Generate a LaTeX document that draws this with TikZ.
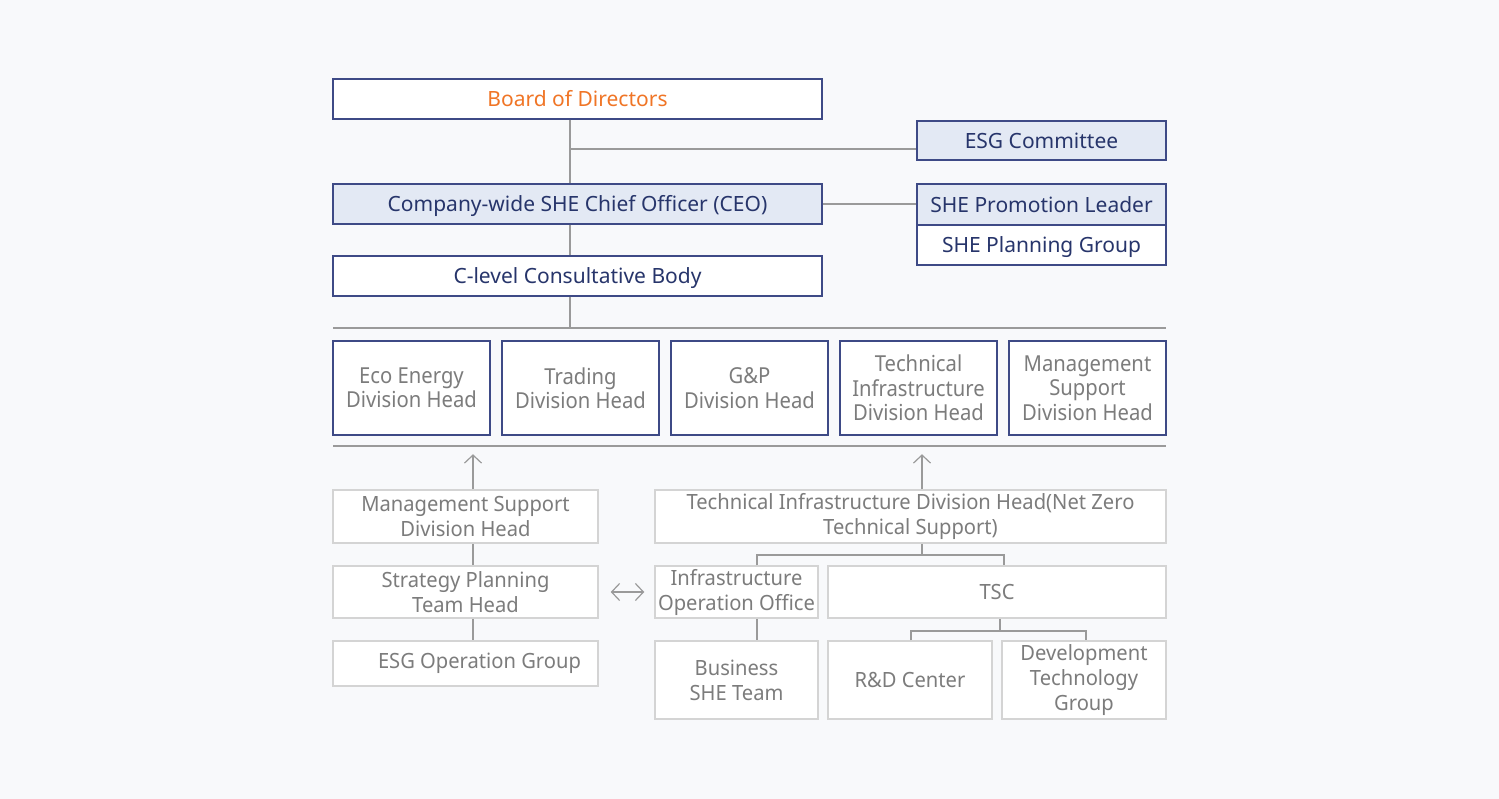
\documentclass[tikz,border=0pt]{standalone}
\usepackage{fontspec}
\setmainfont{Noto Sans}
\newfontfamily\condfont{Noto Sans}[FakeStretch=0.92]
\newfontfamily\lowfont{Noto Sans}[FakeStretch=0.96]
\usetikzlibrary{arrows.meta,calc}
\definecolor{bgc}{HTML}{F8F9FB}
\definecolor{navyb}{HTML}{3E4A86}
\definecolor{navyt}{HTML}{27356B}
\definecolor{lblue}{HTML}{E3E9F4}
\definecolor{orng}{HTML}{F07526}
\definecolor{lineg}{HTML}{9A9A9A}
\definecolor{textg}{HTML}{7C7C7C}
\definecolor{lbord}{HTML}{D4D4D4}
\tikzset{
  topbox/.style={draw=navyb, line width=1.5pt, fill=white, text=navyt, inner sep=0pt,
     text height=15.6pt, text depth=0pt, font=\fontsize{21}{24}\selectfont},
  divbox/.style={draw=navyb, line width=1.5pt, fill=white, text=textg, inner sep=0pt,
     minimum width=157, minimum height=94, align=center,
     font=\condfont\fontsize{22}{24.3}\selectfont},
  lowbox/.style={draw=lbord, line width=1.5pt, fill=white, text=textg, inner sep=0pt,
     align=center, font=\lowfont\fontsize{21}{25}\selectfont},
  conn/.style={draw=lineg, line width=1.4pt},
  arr/.style={conn, -{Straight Barb[length=8pt,width=17pt,line width=1.2pt]}},
  darr/.style={conn, {Straight Barb[length=8pt,width=17pt,line width=1.2pt]}-{Straight Barb[length=8pt,width=17pt,line width=1.2pt]}},
}
\begin{document}
\begin{tikzpicture}[x=1pt,y=-1pt]
\fill[bgc] (0,0) rectangle (1499,799);
\useasboundingbox (0,0) rectangle (1499,799);
% top block
\node[topbox, text=orng, minimum width=489, minimum height=40] (board) at (577.5,99) {Board of Directors};
\node[topbox, fill=lblue, minimum width=249, minimum height=39] (esg) at (1041.5,140.5) {ESG Committee};
\node[topbox, fill=lblue, minimum width=489, minimum height=40] (ceo) at (577.5,204) {Company-wide SHE Chief Officer (CEO)};
\node[topbox, fill=lblue, minimum width=249, minimum height=41] (prom) at (1041.5,204.5) {SHE Promotion Leader};
\node[topbox, minimum width=249, minimum height=40] (plan) at (1041.5,245) {SHE Planning Group};
\node[topbox, minimum width=489, minimum height=40] (clevel) at (577.5,276) {C-level Consultative Body};
\coordinate (spine) at (570,0);
\coordinate (esgj) at (570,149);
\coordinate (r1l) at (333,328);
\coordinate (r1r) at (1166,328);
\coordinate (r2l) at (333,446);
\coordinate (r2r) at (1166,446);
\draw[conn] (board.south -| spine) -- (ceo.north -| spine);
\draw[conn] (esgj) -- (esg.west |- esgj);
\draw[conn] (ceo.east) -- (prom.west |- ceo.east);
\draw[conn] (ceo.south -| spine) -- (clevel.north -| spine);
\draw[conn] (clevel.south -| spine) -- (r1l -| spine);
\draw[conn] (r1l) -- (r1r);
\draw[conn] (r2l) -- (r2r);
% division heads
\node[divbox] (d1) at (411.5,388) {Eco Energy\\Division Head};
\node[divbox] (d2) at (580.5,388) {Trading\\Division Head};
\node[divbox] (d3) at (749.5,388) {G\&P\\Division Head};
\node[divbox] (d4) at (918.5,388) {Technical\\Infrastructure\\Division Head};
\node[divbox] (d5) at (1087.5,388) {Management\\Support\\Division Head};
% lower left
\node[lowbox, minimum width=265, minimum height=53] (msdh) at (465.5,516.5) {Management Support\\Division Head};
\node[lowbox, minimum width=265, minimum height=52] (spth) at (465.5,592) {Strategy Planning\\Team Head};
\node[lowbox, minimum width=265, minimum height=45] (esgop) at (465.5,663.5) {\hspace*{28pt}ESG Operation Group};
\coordinate (a1) at (473,0);
\draw[arr] (msdh.north -| a1) -- ++(0,-35);
\draw[conn] (msdh.south -| a1) -- (spth.north -| a1);
\draw[conn] (spth.south -| a1) -- (esgop.north -| a1);
% lower right
\node[lowbox, minimum width=511, minimum height=53] (tidh) at (910.5,516.5) {Technical Infrastructure Division Head(Net Zero\\Technical Support)};
\node[lowbox, minimum width=163, minimum height=52] (ioo) at (736.5,592) {Infrastructure\\Operation Office};
\node[lowbox, minimum width=338, minimum height=52] (tsc) at (997,592) {TSC};
\node[lowbox, minimum width=163, minimum height=78] (bst) at (736.5,680) {Business\\SHE Team};
\node[lowbox, minimum width=164, minimum height=78] (rd) at (910,680) {R\&D Center};
\node[lowbox, minimum width=164, minimum height=78] (dtg) at (1084,680) {Development\\Technology\\Group};
\coordinate (a2) at (922,0);
\draw[arr] (tidh.north -| a2) -- ++(0,-35);
\draw[darr] ($(spth.east)+(12,0)$) -- ($(ioo.west)+(-10,0)$);
\coordinate (b1) at (922,555);
\coordinate (b1l) at (757,555);
\coordinate (b1r) at (1004,555);
\draw[conn] (tidh.south -| b1) -- (b1);
\draw[conn] (ioo.north -| b1l) |- (b1r) -- (tsc.north -| b1r);
\draw[conn] (ioo.south -| b1l) -- (bst.north -| b1l);
\coordinate (b2) at (1000,631);
\coordinate (b2l) at (911,631);
\coordinate (b2r) at (1086,631);
\draw[conn] (tsc.south -| b2) -- (b2);
\draw[conn] (rd.north -| b2l) |- (b2r) -- (dtg.north -| b2r);
\end{tikzpicture}
\end{document}
